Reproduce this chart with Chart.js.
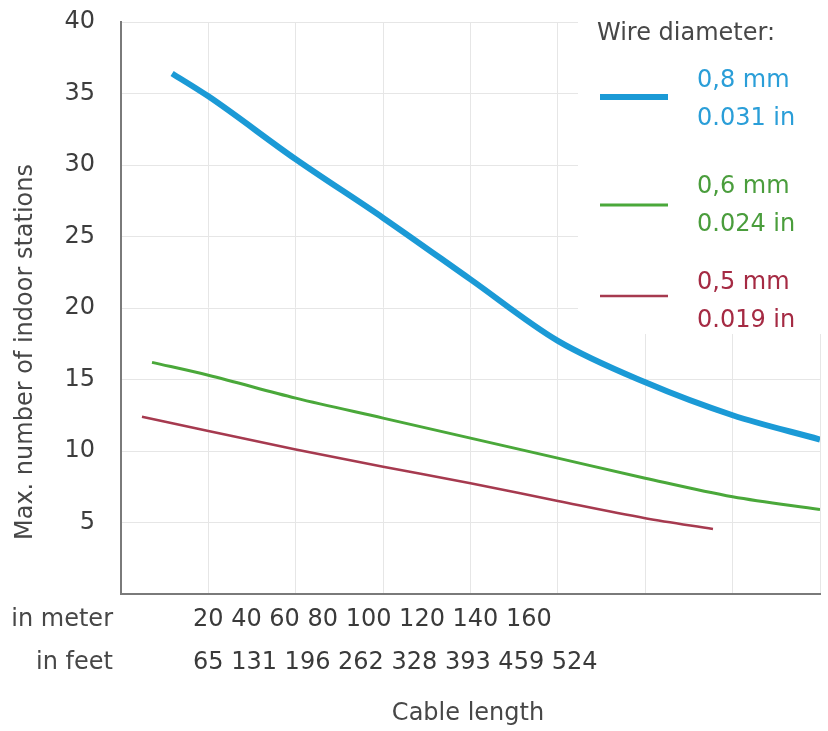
<!DOCTYPE html>
<html>
<head>
<meta charset="utf-8">
<script src="https://cdn.jsdelivr.net/npm/chart.js@4"></script>
<style>
  html, body { margin: 0; padding: 0; background: #fff; }
  #wrap { width: 828px; height: 731px; }
</style>
</head>
<body>
<div id="wrap"><canvas id="cableChart" width="828" height="731"></canvas></div>
<script>
// Data (x in metres, y = max. number of indoor stations)
const meterTicks = [20, 40, 60, 80, 100, 120, 140, 160];
const feetTicks = [65, 131, 196, 262, 328, 393, 459, 524];

const diameterMm = ['0,8 mm', '0,6 mm', '0,5 mm'];
const diameterIn = ['0.031 in', '0.024 in', '0.019 in'];

const lengthsThick = [11.7, 20, 40, 60, 80, 100, 120, 140, 160];
const stationsThick = [36.4, 34.8, 30.4, 26.3, 22.0, 17.7, 14.8, 12.5, 10.8];

const lengthsMid = [7.1, 20, 40, 60, 80, 100, 120, 140, 160];
const stationsMid = [16.2, 15.3, 13.7, 12.3, 10.9, 9.5, 8.1, 6.8, 5.9];

const lengthsThin = [4.8, 20, 40, 60, 80, 100, 120, 135.5];
const stationsThin = [12.4, 11.4, 10.1, 8.9, 7.75, 6.5, 5.3, 4.55];

const FONT = '"DejaVu Sans", sans-serif';
const FSIZE = 24;
const TEXT = '#474747';
const GRID = '#e6e6e6';

function pts(xs, ys) {
    return xs.map((x, i) => ({ x: x, y: ys[i] }));
}

const lineColors = ['#1b9ad6', '#4aa83a', '#a63a4f'];
const textColors = ['#2a9ed8', '#4a9d3c', '#a52a43'];
const lineWidths = [6, 3, 2.5];

// legend + extra axis texts drawn by hand, the layout of the original doesn't fit chart.js' own
const textPlugin = {
    id: 'textPlugin',
    beforeDatasetsDraw(chart) {
        const ctx = chart.ctx;
        // legend box hides the grid in the upper right
        ctx.save();
        ctx.fillStyle = '#fff';
        ctx.fillRect(578, 0, 250, 334);
        ctx.restore();
    },
    afterDraw(chart) {
        const ctx = chart.ctx;
        ctx.save();
        ctx.font = FSIZE + 'px ' + FONT;
        ctx.textBaseline = 'middle';

        // y axis title
        ctx.save();
        ctx.translate(26, 352);
        ctx.rotate(-Math.PI / 2);
        ctx.textAlign = 'center';
        ctx.fillStyle = TEXT;
        ctx.fillText('Max. number of indoor stations', 0, 0);
        ctx.restore();

        // bottom rows
        ctx.fillStyle = TEXT;
        ctx.textAlign = 'right';
        ctx.fillText('in meter', 113, 620);
        ctx.fillText('in feet', 113, 663);
        ctx.textAlign = 'left';
        ctx.fillStyle = '#3a3a3a';
        ctx.fillText(meterTicks.join(' '), 193, 620);
        ctx.fillText(feetTicks.join(' '), 193, 663);
        ctx.fillStyle = TEXT;
        ctx.textAlign = 'center';
        ctx.fillText('Cable length', 468, 714);

        // legend
        ctx.textAlign = 'left';
        ctx.fillStyle = TEXT;
        ctx.fillText('Wire diameter:', 597, 34);
        const lineY = [97, 205, 296];
        const rowTop = [81, 187, 283];
        chart.data.datasets.forEach((ds, i) => {
            ctx.strokeStyle = ds.borderColor;
            ctx.lineWidth = ds.borderWidth;
            ctx.beginPath();
            ctx.moveTo(600, lineY[i]);
            ctx.lineTo(668, lineY[i]);
            ctx.stroke();
            ctx.fillStyle = textColors[i];
            ctx.fillText(diameterMm[i], 697, rowTop[i]);
            ctx.fillText(diameterIn[i], 697, rowTop[i] + 38);
        });
        ctx.restore();
    }
};

const ctx = document.getElementById('cableChart').getContext('2d');
new Chart(ctx, {
    type: 'line',
    data: {
        datasets: [
            { label: diameterMm[0], data: pts(lengthsThick, stationsThick) },
            { label: diameterMm[1], data: pts(lengthsMid, stationsMid) },
            { label: diameterMm[2], data: pts(lengthsThin, stationsThin) }
        ].map((ds, i) => Object.assign(ds, {
            borderColor: lineColors[i],
            borderWidth: lineWidths[i],
            pointRadius: 0,
            fill: false,
            cubicInterpolationMode: 'monotone',
            borderCapStyle: 'butt'
        }))
    },
    options: {
        responsive: false,
        animation: false,
        layout: { padding: { left: 0, right: 8, top: 22, bottom: 0 } },
        plugins: {
            legend: { display: false },
            tooltip: { enabled: false }
        },
        scales: {
            x: {
                type: 'linear',
                min: 0,
                max: 160,
                ticks: { display: false, stepSize: 20 },
                grid: { color: GRID, drawTicks: false },
                border: { color: '#7a7a7a', width: 2 },
                afterFit(scale) { scale.height = 137; }
            },
            y: {
                min: 0,
                max: 40,
                ticks: {
                    stepSize: 5,
                    padding: 6,
                    color: '#3d3d3d',
                    font: { family: FONT, size: FSIZE },
                    callback: v => v === 0 ? '' : v
                },
                // invisible tick marks keep the labels away from the axis line
                grid: { color: GRID, drawTicks: true, tickLength: 20, tickColor: 'rgba(0,0,0,0)' },
                border: { color: '#7a7a7a', width: 2 },
                afterFit(scale) { scale.width = 121; }
            }
        }
    },
    plugins: [textPlugin]
});
</script>
</body>
</html>
